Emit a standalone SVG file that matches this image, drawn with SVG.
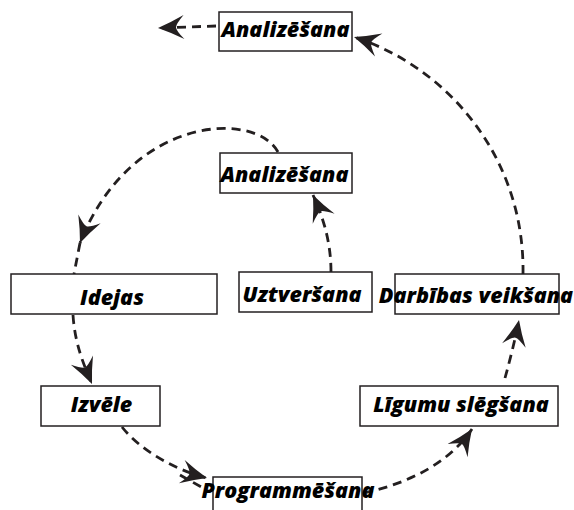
<svg xmlns="http://www.w3.org/2000/svg" width="574" height="510" viewBox="0 0 574 510">
  <style>
    .box { fill: #ffffff; stroke: #231f20; stroke-width: 1.5; }
    .label { font-family: "Open Sans", "Liberation Sans", sans-serif; font-weight: 800; font-style: italic; font-size: 21.5px; fill: #000000; text-anchor: middle; }
    .link { fill: none; stroke: #231f20; stroke-width: 2.8; stroke-dasharray: 9 6; }
  </style>
  <defs>
    <marker id="head" markerUnits="userSpaceOnUse" viewBox="-28 -14 30 28" refX="0" refY="0" markerWidth="30" markerHeight="28" orient="auto">
      <path d="M0,0 Q-13,-5 -26,-12 Q-18,-3 -18,0 Q-18,3 -26,12 Q-13,5 0,0 Z" fill="#231f20"/>
    </marker>
  </defs>
  <rect width="574" height="510" fill="#ffffff"/>

  <!-- connectors -->
  <g id="connectors">
    <path class="link" d="M216,26 L158,28" marker-end="url(#head)"/>
    <path class="link" d="M523,274 C525,160 450,68 354,37" marker-end="url(#head)"/>
    <path class="link" d="M278,152 C255,110 130,115 80,243" marker-end="url(#head)"/>
    <path class="link" d="M80,243 L74,274"/>
    <path class="link" d="M73,315 C75,345 84,365 92,384" marker-end="url(#head)"/>
    <path class="link" d="M122,427 C140,450 175,470 207,478" marker-end="url(#head)"/>
    <path class="link" d="M180,475 L203,488"/>
    <path class="link" d="M364,493 C410,483 450,462 472,429" marker-end="url(#head)"/>
    <path class="link" d="M505,378 C510,360 515,340 519,320" marker-end="url(#head)"/>
    <path class="link" d="M331,272 C331,240 322,215 313,195" marker-end="url(#head)"/>
  </g>

  <g id="analize-top">
    <rect class="box" x="219" y="12" width="133" height="39"/>
    <text class="label" x="285.5" y="37">Analizēšana</text>
  </g>
  <g id="analize-mid">
    <rect class="box" x="220" y="153" width="132" height="40"/>
    <text class="label" x="284.5" y="182">Analizēšana</text>
  </g>
  <g id="idejas">
    <rect class="box" x="11" y="274" width="206" height="40"/>
    <text class="label" x="112" y="305">Idejas</text>
  </g>
  <g id="uztversana">
    <rect class="box" x="239" y="272" width="133" height="40"/>
    <text class="label" x="302" y="302">Uztveršana</text>
  </g>
  <g id="darbibas">
    <rect class="box" x="395" y="274" width="164" height="40"/>
    <text class="label" x="476" y="303">Darbības veikšana</text>
  </g>
  <g id="izvele">
    <rect class="box" x="41" y="386" width="119" height="40"/>
    <text class="label" x="101.5" y="412">Izvēle</text>
  </g>
  <g id="ligumu">
    <rect class="box" x="360" y="386" width="198" height="40"/>
    <text class="label" x="461" y="412">Līgumu slēgšana</text>
  </g>
  <g id="programmesana">
    <rect class="box" x="213" y="477" width="149" height="42"/>
    <text class="label" x="288" y="498">Programmēšana</text>
  </g>
</svg>
